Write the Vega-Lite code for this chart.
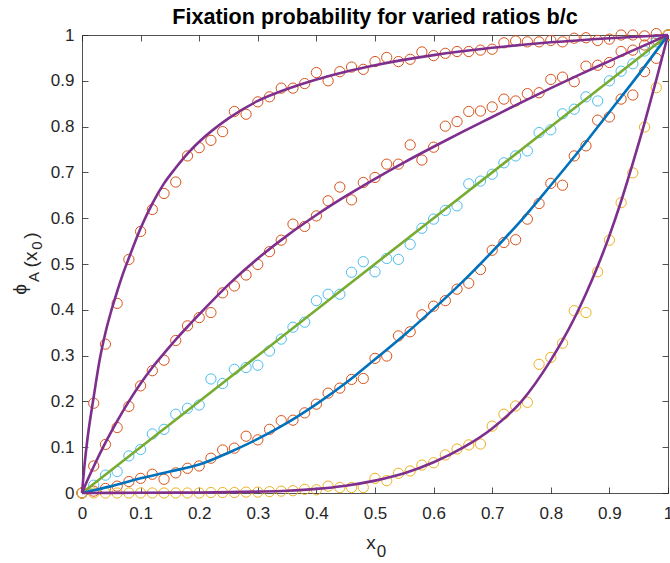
{
"$schema":"https://vega.github.io/schema/vega-lite/v6.json",
"width":586,"height":458,
"autosize":{"type":"none"},
"padding":{"left":82,"top":35,"right":2,"bottom":70},
"background":"white",
"title":{"text":"Fixation probability for varied ratios b/c","font":"Liberation Sans","fontSize":21.6,"fontWeight":"bold","color":"#000000","anchor":"middle","offset":-3},
"config":{"view":{"stroke":null},"axis":{"domainColor":"#262626","domainWidth":0.8,"tickColor":"#262626","tickWidth":0.8,"tickSize":-6,"labelFont":"Liberation Sans","labelFontSize":17,"labelColor":"#262626","grid":false,"titleFont":"Liberation Sans","titleColor":"#262626","titleFontWeight":"normal","labelFlush":false,"labelOverlap":false}},
"datasets":{
"circles":[
{"x":0,"phi":0,"s":"c1"},{"x":0.02,"phi":0.196,"s":"c1"},{"x":0.04,"phi":0.325,"s":"c1"},{"x":0.06,"phi":0.414,"s":"c1"},{"x":0.08,"phi":0.51,"s":"c1"},{"x":0.1,"phi":0.571,"s":"c1"},{"x":0.12,"phi":0.619,"s":"c1"},{"x":0.14,"phi":0.654,"s":"c1"},{"x":0.16,"phi":0.679,"s":"c1"},{"x":0.18,"phi":0.736,"s":"c1"},{"x":0.2,"phi":0.754,"s":"c1"},{"x":0.22,"phi":0.77,"s":"c1"},{"x":0.24,"phi":0.789,"s":"c1"},{"x":0.26,"phi":0.833,"s":"c1"},{"x":0.28,"phi":0.827,"s":"c1"},{"x":0.3,"phi":0.854,"s":"c1"},{"x":0.32,"phi":0.865,"s":"c1"},{"x":0.34,"phi":0.884,"s":"c1"},{"x":0.36,"phi":0.884,"s":"c1"},{"x":0.38,"phi":0.894,"s":"c1"},{"x":0.4,"phi":0.918,"s":"c1"},{"x":0.42,"phi":0.9,"s":"c1"},{"x":0.44,"phi":0.92,"s":"c1"},{"x":0.46,"phi":0.93,"s":"c1"},{"x":0.48,"phi":0.925,"s":"c1"},{"x":0.5,"phi":0.942,"s":"c1"},{"x":0.52,"phi":0.951,"s":"c1"},{"x":0.54,"phi":0.942,"s":"c1"},{"x":0.56,"phi":0.947,"s":"c1"},{"x":0.58,"phi":0.963,"s":"c1"},{"x":0.6,"phi":0.955,"s":"c1"},{"x":0.62,"phi":0.96,"s":"c1"},{"x":0.64,"phi":0.964,"s":"c1"},{"x":0.66,"phi":0.964,"s":"c1"},{"x":0.68,"phi":0.967,"s":"c1"},{"x":0.7,"phi":0.969,"s":"c1"},{"x":0.72,"phi":0.983,"s":"c1"},{"x":0.74,"phi":0.987,"s":"c1"},{"x":0.76,"phi":0.985,"s":"c1"},{"x":0.78,"phi":0.985,"s":"c1"},{"x":0.8,"phi":0.988,"s":"c1"},{"x":0.82,"phi":0.985,"s":"c1"},{"x":0.84,"phi":0.993,"s":"c1"},{"x":0.86,"phi":0.994,"s":"c1"},{"x":0.88,"phi":0.988,"s":"c1"},{"x":0.9,"phi":0.991,"s":"c1"},{"x":0.92,"phi":1,"s":"c1"},{"x":0.94,"phi":1,"s":"c1"},{"x":0.96,"phi":0.998,"s":"c1"},{"x":0.98,"phi":1.003,"s":"c1"},{"x":1,"phi":1,"s":"c1"},
{"x":0,"phi":0,"s":"c2"},{"x":0.02,"phi":0.059,"s":"c2"},{"x":0.04,"phi":0.106,"s":"c2"},{"x":0.06,"phi":0.143,"s":"c2"},{"x":0.08,"phi":0.189,"s":"c2"},{"x":0.1,"phi":0.234,"s":"c2"},{"x":0.12,"phi":0.267,"s":"c2"},{"x":0.14,"phi":0.29,"s":"c2"},{"x":0.16,"phi":0.333,"s":"c2"},{"x":0.18,"phi":0.365,"s":"c2"},{"x":0.2,"phi":0.383,"s":"c2"},{"x":0.22,"phi":0.394,"s":"c2"},{"x":0.24,"phi":0.437,"s":"c2"},{"x":0.26,"phi":0.452,"s":"c2"},{"x":0.28,"phi":0.476,"s":"c2"},{"x":0.3,"phi":0.499,"s":"c2"},{"x":0.32,"phi":0.527,"s":"c2"},{"x":0.34,"phi":0.552,"s":"c2"},{"x":0.36,"phi":0.587,"s":"c2"},{"x":0.38,"phi":0.582,"s":"c2"},{"x":0.4,"phi":0.605,"s":"c2"},{"x":0.42,"phi":0.638,"s":"c2"},{"x":0.44,"phi":0.668,"s":"c2"},{"x":0.46,"phi":0.64,"s":"c2"},{"x":0.48,"phi":0.678,"s":"c2"},{"x":0.5,"phi":0.689,"s":"c2"},{"x":0.52,"phi":0.718,"s":"c2"},{"x":0.54,"phi":0.718,"s":"c2"},{"x":0.56,"phi":0.76,"s":"c2"},{"x":0.58,"phi":0.727,"s":"c2"},{"x":0.6,"phi":0.755,"s":"c2"},{"x":0.62,"phi":0.801,"s":"c2"},{"x":0.64,"phi":0.811,"s":"c2"},{"x":0.66,"phi":0.833,"s":"c2"},{"x":0.68,"phi":0.834,"s":"c2"},{"x":0.7,"phi":0.843,"s":"c2"},{"x":0.72,"phi":0.86,"s":"c2"},{"x":0.74,"phi":0.856,"s":"c2"},{"x":0.76,"phi":0.872,"s":"c2"},{"x":0.78,"phi":0.874,"s":"c2"},{"x":0.8,"phi":0.903,"s":"c2"},{"x":0.82,"phi":0.908,"s":"c2"},{"x":0.84,"phi":0.898,"s":"c2"},{"x":0.86,"phi":0.932,"s":"c2"},{"x":0.88,"phi":0.934,"s":"c2"},{"x":0.9,"phi":0.94,"s":"c2"},{"x":0.92,"phi":0.964,"s":"c2"},{"x":0.94,"phi":0.967,"s":"c2"},{"x":0.96,"phi":0.978,"s":"c2"},{"x":0.98,"phi":0.99,"s":"c2"},{"x":1,"phi":1,"s":"c2"},
{"x":0,"phi":0,"s":"c3"},{"x":0.02,"phi":0.017,"s":"c3"},{"x":0.04,"phi":0.039,"s":"c3"},{"x":0.06,"phi":0.047,"s":"c3"},{"x":0.08,"phi":0.081,"s":"c3"},{"x":0.1,"phi":0.095,"s":"c3"},{"x":0.12,"phi":0.129,"s":"c3"},{"x":0.14,"phi":0.139,"s":"c3"},{"x":0.16,"phi":0.172,"s":"c3"},{"x":0.18,"phi":0.185,"s":"c3"},{"x":0.2,"phi":0.192,"s":"c3"},{"x":0.22,"phi":0.249,"s":"c3"},{"x":0.24,"phi":0.239,"s":"c3"},{"x":0.26,"phi":0.27,"s":"c3"},{"x":0.28,"phi":0.274,"s":"c3"},{"x":0.3,"phi":0.279,"s":"c3"},{"x":0.32,"phi":0.31,"s":"c3"},{"x":0.34,"phi":0.336,"s":"c3"},{"x":0.36,"phi":0.362,"s":"c3"},{"x":0.38,"phi":0.373,"s":"c3"},{"x":0.4,"phi":0.42,"s":"c3"},{"x":0.42,"phi":0.434,"s":"c3"},{"x":0.44,"phi":0.434,"s":"c3"},{"x":0.46,"phi":0.482,"s":"c3"},{"x":0.48,"phi":0.505,"s":"c3"},{"x":0.5,"phi":0.483,"s":"c3"},{"x":0.52,"phi":0.512,"s":"c3"},{"x":0.54,"phi":0.51,"s":"c3"},{"x":0.56,"phi":0.543,"s":"c3"},{"x":0.58,"phi":0.578,"s":"c3"},{"x":0.6,"phi":0.598,"s":"c3"},{"x":0.62,"phi":0.617,"s":"c3"},{"x":0.64,"phi":0.627,"s":"c3"},{"x":0.66,"phi":0.675,"s":"c3"},{"x":0.68,"phi":0.681,"s":"c3"},{"x":0.7,"phi":0.696,"s":"c3"},{"x":0.72,"phi":0.721,"s":"c3"},{"x":0.74,"phi":0.736,"s":"c3"},{"x":0.76,"phi":0.747,"s":"c3"},{"x":0.78,"phi":0.787,"s":"c3"},{"x":0.8,"phi":0.793,"s":"c3"},{"x":0.82,"phi":0.828,"s":"c3"},{"x":0.84,"phi":0.838,"s":"c3"},{"x":0.86,"phi":0.865,"s":"c3"},{"x":0.88,"phi":0.856,"s":"c3"},{"x":0.9,"phi":0.9,"s":"c3"},{"x":0.92,"phi":0.921,"s":"c3"},{"x":0.94,"phi":0.937,"s":"c3"},{"x":0.96,"phi":0.965,"s":"c3"},{"x":0.98,"phi":0.985,"s":"c3"},{"x":1,"phi":1,"s":"c3"},
{"x":0,"phi":0,"s":"c4"},{"x":0.02,"phi":0.004,"s":"c4"},{"x":0.04,"phi":0.01,"s":"c4"},{"x":0.06,"phi":0.015,"s":"c4"},{"x":0.08,"phi":0.025,"s":"c4"},{"x":0.1,"phi":0.032,"s":"c4"},{"x":0.12,"phi":0.041,"s":"c4"},{"x":0.14,"phi":0.03,"s":"c4"},{"x":0.16,"phi":0.044,"s":"c4"},{"x":0.18,"phi":0.054,"s":"c4"},{"x":0.2,"phi":0.059,"s":"c4"},{"x":0.22,"phi":0.076,"s":"c4"},{"x":0.24,"phi":0.094,"s":"c4"},{"x":0.26,"phi":0.098,"s":"c4"},{"x":0.28,"phi":0.124,"s":"c4"},{"x":0.3,"phi":0.116,"s":"c4"},{"x":0.32,"phi":0.139,"s":"c4"},{"x":0.34,"phi":0.158,"s":"c4"},{"x":0.36,"phi":0.159,"s":"c4"},{"x":0.38,"phi":0.175,"s":"c4"},{"x":0.4,"phi":0.194,"s":"c4"},{"x":0.42,"phi":0.218,"s":"c4"},{"x":0.44,"phi":0.229,"s":"c4"},{"x":0.46,"phi":0.248,"s":"c4"},{"x":0.48,"phi":0.25,"s":"c4"},{"x":0.5,"phi":0.294,"s":"c4"},{"x":0.52,"phi":0.299,"s":"c4"},{"x":0.54,"phi":0.343,"s":"c4"},{"x":0.56,"phi":0.352,"s":"c4"},{"x":0.58,"phi":0.389,"s":"c4"},{"x":0.6,"phi":0.408,"s":"c4"},{"x":0.62,"phi":0.42,"s":"c4"},{"x":0.64,"phi":0.445,"s":"c4"},{"x":0.66,"phi":0.458,"s":"c4"},{"x":0.68,"phi":0.488,"s":"c4"},{"x":0.7,"phi":0.53,"s":"c4"},{"x":0.72,"phi":0.547,"s":"c4"},{"x":0.74,"phi":0.553,"s":"c4"},{"x":0.76,"phi":0.598,"s":"c4"},{"x":0.78,"phi":0.632,"s":"c4"},{"x":0.8,"phi":0.676,"s":"c4"},{"x":0.82,"phi":0.672,"s":"c4"},{"x":0.84,"phi":0.736,"s":"c4"},{"x":0.86,"phi":0.758,"s":"c4"},{"x":0.88,"phi":0.814,"s":"c4"},{"x":0.9,"phi":0.821,"s":"c4"},{"x":0.92,"phi":0.86,"s":"c4"},{"x":0.94,"phi":0.869,"s":"c4"},{"x":0.96,"phi":0.92,"s":"c4"},{"x":0.98,"phi":0.949,"s":"c4"},{"x":1,"phi":1,"s":"c4"},
{"x":0,"phi":0,"s":"c5"},{"x":0.02,"phi":0,"s":"c5"},{"x":0.04,"phi":0,"s":"c5"},{"x":0.06,"phi":0,"s":"c5"},{"x":0.08,"phi":0,"s":"c5"},{"x":0.1,"phi":0,"s":"c5"},{"x":0.12,"phi":0,"s":"c5"},{"x":0.14,"phi":0,"s":"c5"},{"x":0.16,"phi":0,"s":"c5"},{"x":0.18,"phi":0,"s":"c5"},{"x":0.2,"phi":0,"s":"c5"},{"x":0.22,"phi":0.001,"s":"c5"},{"x":0.24,"phi":0.001,"s":"c5"},{"x":0.26,"phi":0.001,"s":"c5"},{"x":0.28,"phi":0.002,"s":"c5"},{"x":0.3,"phi":0.002,"s":"c5"},{"x":0.32,"phi":0.003,"s":"c5"},{"x":0.34,"phi":0.004,"s":"c5"},{"x":0.36,"phi":0.005,"s":"c5"},{"x":0.38,"phi":0.008,"s":"c5"},{"x":0.4,"phi":0.007,"s":"c5"},{"x":0.42,"phi":0.015,"s":"c5"},{"x":0.44,"phi":0.012,"s":"c5"},{"x":0.46,"phi":0.012,"s":"c5"},{"x":0.48,"phi":0.012,"s":"c5"},{"x":0.5,"phi":0.032,"s":"c5"},{"x":0.52,"phi":0.027,"s":"c5"},{"x":0.54,"phi":0.043,"s":"c5"},{"x":0.56,"phi":0.048,"s":"c5"},{"x":0.58,"phi":0.061,"s":"c5"},{"x":0.6,"phi":0.066,"s":"c5"},{"x":0.62,"phi":0.083,"s":"c5"},{"x":0.64,"phi":0.096,"s":"c5"},{"x":0.66,"phi":0.105,"s":"c5"},{"x":0.68,"phi":0.107,"s":"c5"},{"x":0.7,"phi":0.146,"s":"c5"},{"x":0.72,"phi":0.172,"s":"c5"},{"x":0.74,"phi":0.19,"s":"c5"},{"x":0.76,"phi":0.198,"s":"c5"},{"x":0.78,"phi":0.281,"s":"c5"},{"x":0.8,"phi":0.296,"s":"c5"},{"x":0.82,"phi":0.327,"s":"c5"},{"x":0.84,"phi":0.398,"s":"c5"},{"x":0.86,"phi":0.394,"s":"c5"},{"x":0.88,"phi":0.483,"s":"c5"},{"x":0.9,"phi":0.552,"s":"c5"},{"x":0.92,"phi":0.634,"s":"c5"},{"x":0.94,"phi":0.699,"s":"c5"},{"x":0.96,"phi":0.799,"s":"c5"},{"x":0.98,"phi":0.885,"s":"c5"},{"x":1,"phi":1,"s":"c5"}
],
"curves":[
{"x":0,"phi":0,"s":"l3"},{"x":0.25,"phi":0.25,"s":"l3"},{"x":0.5,"phi":0.5,"s":"l3"},{"x":0.75,"phi":0.75,"s":"l3"},{"x":1,"phi":1,"s":"l3"},
{"x":0,"phi":0,"s":"l4"},{"x":0.05,"phi":0.015,"s":"l4"},{"x":0.1,"phi":0.032,"s":"l4"},{"x":0.15,"phi":0.047,"s":"l4"},{"x":0.2,"phi":0.062,"s":"l4"},{"x":0.25,"phi":0.088,"s":"l4"},{"x":0.3,"phi":0.118,"s":"l4"},{"x":0.35,"phi":0.153,"s":"l4"},{"x":0.4,"phi":0.194,"s":"l4"},{"x":0.45,"phi":0.24,"s":"l4"},{"x":0.5,"phi":0.292,"s":"l4"},{"x":0.55,"phi":0.345,"s":"l4"},{"x":0.6,"phi":0.402,"s":"l4"},{"x":0.65,"phi":0.462,"s":"l4"},{"x":0.7,"phi":0.527,"s":"l4"},{"x":0.75,"phi":0.596,"s":"l4"},{"x":0.8,"phi":0.672,"s":"l4"},{"x":0.85,"phi":0.75,"s":"l4"},{"x":0.9,"phi":0.832,"s":"l4"},{"x":0.95,"phi":0.914,"s":"l4"},{"x":1,"phi":1,"s":"l4"},
{"x":0,"phi":0,"s":"l1"},{"x":0.005,"phi":0.07,"s":"l1"},{"x":0.01,"phi":0.125,"s":"l1"},{"x":0.02,"phi":0.21,"s":"l1"},{"x":0.03,"phi":0.29,"s":"l1"},{"x":0.04,"phi":0.35,"s":"l1"},{"x":0.05,"phi":0.398,"s":"l1"},{"x":0.06,"phi":0.44,"s":"l1"},{"x":0.07,"phi":0.479,"s":"l1"},{"x":0.08,"phi":0.513,"s":"l1"},{"x":0.1,"phi":0.578,"s":"l1"},{"x":0.12,"phi":0.632,"s":"l1"},{"x":0.14,"phi":0.676,"s":"l1"},{"x":0.16,"phi":0.71,"s":"l1"},{"x":0.18,"phi":0.741,"s":"l1"},{"x":0.2,"phi":0.767,"s":"l1"},{"x":0.25,"phi":0.818,"s":"l1"},{"x":0.3,"phi":0.856,"s":"l1"},{"x":0.35,"phi":0.882,"s":"l1"},{"x":0.4,"phi":0.903,"s":"l1"},{"x":0.45,"phi":0.92,"s":"l1"},{"x":0.5,"phi":0.934,"s":"l1"},{"x":0.6,"phi":0.956,"s":"l1"},{"x":0.7,"phi":0.972,"s":"l1"},{"x":0.8,"phi":0.984,"s":"l1"},{"x":0.9,"phi":0.993,"s":"l1"},{"x":1,"phi":1,"s":"l1"},
{"x":0,"phi":0,"s":"l2"},{"x":0.01,"phi":0.03,"s":"l2"},{"x":0.02,"phi":0.058,"s":"l2"},{"x":0.04,"phi":0.11,"s":"l2"},{"x":0.06,"phi":0.157,"s":"l2"},{"x":0.08,"phi":0.2,"s":"l2"},{"x":0.1,"phi":0.239,"s":"l2"},{"x":0.12,"phi":0.274,"s":"l2"},{"x":0.14,"phi":0.305,"s":"l2"},{"x":0.16,"phi":0.335,"s":"l2"},{"x":0.18,"phi":0.363,"s":"l2"},{"x":0.2,"phi":0.39,"s":"l2"},{"x":0.25,"phi":0.455,"s":"l2"},{"x":0.3,"phi":0.512,"s":"l2"},{"x":0.35,"phi":0.562,"s":"l2"},{"x":0.4,"phi":0.607,"s":"l2"},{"x":0.45,"phi":0.648,"s":"l2"},{"x":0.5,"phi":0.686,"s":"l2"},{"x":0.55,"phi":0.722,"s":"l2"},{"x":0.6,"phi":0.756,"s":"l2"},{"x":0.65,"phi":0.789,"s":"l2"},{"x":0.7,"phi":0.821,"s":"l2"},{"x":0.75,"phi":0.853,"s":"l2"},{"x":0.8,"phi":0.884,"s":"l2"},{"x":0.85,"phi":0.914,"s":"l2"},{"x":0.9,"phi":0.943,"s":"l2"},{"x":0.95,"phi":0.972,"s":"l2"},{"x":1,"phi":1,"s":"l2"},
{"x":0,"phi":0,"s":"l5"},{"x":0.1,"phi":0.0005,"s":"l5"},{"x":0.2,"phi":0.001,"s":"l5"},{"x":0.3,"phi":0.003,"s":"l5"},{"x":0.35,"phi":0.005,"s":"l5"},{"x":0.4,"phi":0.009,"s":"l5"},{"x":0.45,"phi":0.016,"s":"l5"},{"x":0.5,"phi":0.027,"s":"l5"},{"x":0.55,"phi":0.043,"s":"l5"},{"x":0.6,"phi":0.067,"s":"l5"},{"x":0.65,"phi":0.099,"s":"l5"},{"x":0.7,"phi":0.141,"s":"l5"},{"x":0.75,"phi":0.2,"s":"l5"},{"x":0.8,"phi":0.29,"s":"l5"},{"x":0.82,"phi":0.333,"s":"l5"},{"x":0.84,"phi":0.381,"s":"l5"},{"x":0.86,"phi":0.435,"s":"l5"},{"x":0.88,"phi":0.495,"s":"l5"},{"x":0.9,"phi":0.562,"s":"l5"},{"x":0.92,"phi":0.637,"s":"l5"},{"x":0.94,"phi":0.72,"s":"l5"},{"x":0.96,"phi":0.808,"s":"l5"},{"x":0.98,"phi":0.902,"s":"l5"},{"x":1,"phi":1,"s":"l5"}
]
},
"layer":[
{"data":{"name":"circles"},
 "mark":{"type":"point","shape":"circle","filled":false,"size":105,"strokeWidth":1,"opacity":1},
 "encoding":{
  "x":{"field":"x","type":"quantitative","scale":{"domain":[0,1],"nice":false,"zero":false},"axis":{"orient":"bottom","values":[0,0.1,0.2,0.3,0.4,0.5,0.6,0.7,0.8,0.9,1],"format":"~g","labelPadding":18,"title":"x","titleFontSize":19,"titleX":288.5,"titleY":49,"titleAlign":"center","titleBaseline":"middle","titleAngle":0}},
  "y":{"field":"phi","type":"quantitative","scale":{"domain":[0,1],"nice":false,"zero":false},"axis":{"orient":"left","values":[0,0.1,0.2,0.3,0.4,0.5,0.6,0.7,0.8,0.9,1],"format":"~g","labelPadding":14,"title":"ϕ","titleFontSize":19,"titleX":-63,"titleY":254,"titleAlign":"center","titleBaseline":"middle","titleAngle":-90}},
  "color":{"field":"s","type":"nominal","legend":null,"scale":{"domain":["c1","c2","c3","c4","c5","l3","l4","l1","l2","l5"],"range":["#D95319","#D95319","#4DBEEE","#D95319","#EDB120","#77AC30","#0072BD","#7E2F8E","#7E2F8E","#7E2F8E"]}}
 }},
{"data":{"name":"curves"},
 "mark":{"type":"line","strokeWidth":2.6,"interpolate":"monotone"},
 "encoding":{
  "x":{"field":"x","type":"quantitative","axis":{"orient":"top","values":[0,0.1,0.2,0.3,0.4,0.5,0.6,0.7,0.8,0.9,1],"labels":false,"title":null}},
  "y":{"field":"phi","type":"quantitative","axis":{"orient":"right","values":[0,0.1,0.2,0.3,0.4,0.5,0.6,0.7,0.8,0.9,1],"labels":false,"title":null}},
  "color":{"field":"s","type":"nominal","legend":null}
 }},
{"data":{"name":"curves"},
 "mark":{"type":"point","opacity":0},
 "encoding":{
  "x":{"field":"x","type":"quantitative","axis":{"orient":"bottom","domain":false,"ticks":false,"labels":false,"title":"0","titleFontSize":17,"titleX":299,"titleY":58.5,"titleAlign":"center","titleBaseline":"middle","titleAngle":0}},
  "y":{"field":"phi","type":"quantitative","axis":{"orient":"left","domain":false,"ticks":false,"labels":false,"title":"A","titleFontSize":15,"titleX":-48.5,"titleY":241.5,"titleAlign":"center","titleBaseline":"middle","titleAngle":-90}}
 }},
{"data":{"name":"curves"},
 "mark":{"type":"point","opacity":0},
 "encoding":{
  "x":{"field":"x","type":"quantitative","axis":null},
  "y":{"field":"phi","type":"quantitative","axis":{"orient":"left","domain":false,"ticks":false,"labels":false,"title":"(x","titleFontSize":19,"titleX":-52,"titleY":224,"titleAlign":"center","titleBaseline":"middle","titleAngle":-90}}
 }},
{"data":{"name":"curves"},
 "mark":{"type":"point","opacity":0},
 "encoding":{
  "x":{"field":"x","type":"quantitative","axis":null},
  "y":{"field":"phi","type":"quantitative","axis":{"orient":"left","domain":false,"ticks":false,"labels":false,"title":"0","titleFontSize":15,"titleX":-46,"titleY":210,"titleAlign":"center","titleBaseline":"middle","titleAngle":-90}}
 }},
{"data":{"name":"curves"},
 "mark":{"type":"point","opacity":0},
 "encoding":{
  "x":{"field":"x","type":"quantitative","axis":null},
  "y":{"field":"phi","type":"quantitative","axis":{"orient":"left","domain":false,"ticks":false,"labels":false,"title":")","titleFontSize":19,"titleX":-52,"titleY":200,"titleAlign":"center","titleBaseline":"middle","titleAngle":-90}}
 }}
],
"resolve":{"axis":{"x":"independent","y":"independent"}}
}
